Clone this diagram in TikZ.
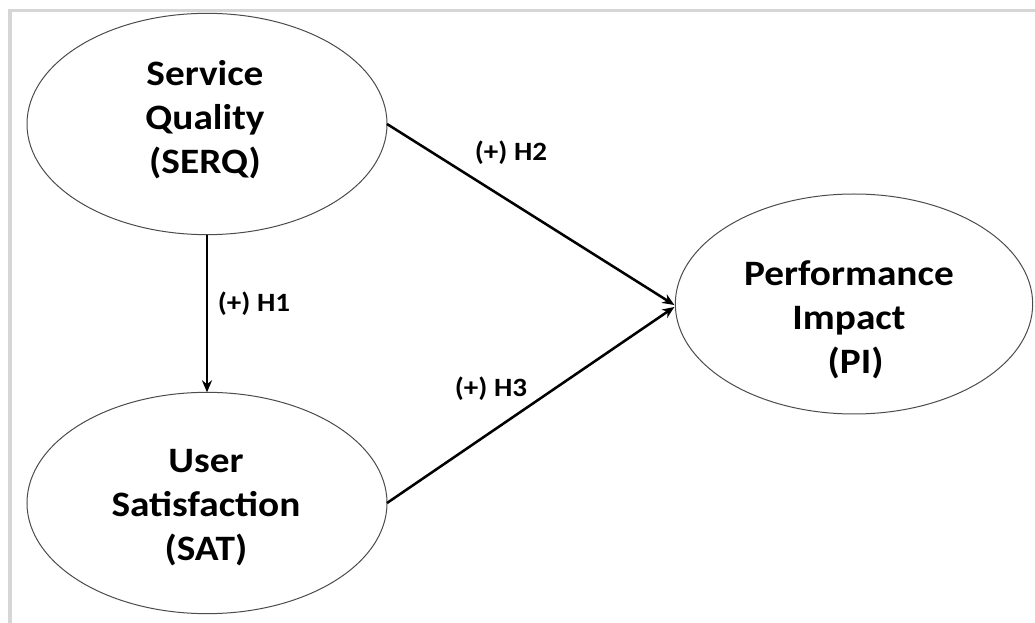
\documentclass[tikz,border=0pt]{standalone}
\usepackage{fontspec}
\setmainfont{Carlito}[FakeStretch=1.1]
\usetikzlibrary{arrows.meta,calc}
\tikzset{
  construct/.style={ellipse, draw=black!70, line width=0.75pt, minimum width=270pt, minimum height=166pt, inner sep=0pt, outer sep=0pt},
  ctext/.style={align=center, font=\bfseries\fontsize{26.8}{33}\selectfont, inner sep=0pt},
  hyp/.style={font=\bfseries\fontsize{19.8}{24}\selectfont, inner sep=0pt},
  path/.style={line width=1.9pt, -{Stealth[length=9pt,width=7.5pt]}},
  frameline/.style={draw=black!16, line width=2.6pt}
}
\usetikzlibrary{shapes.geometric}
\begin{document}
\begin{tikzpicture}[x=0.75pt,y=-0.75pt]
\useasboundingbox (0,0) rectangle (1035,623);
\fill[white] (0,0) rectangle (1035,623);
% partial frame
\coordinate (fTR) at (1035,10.5);
\coordinate (fTL) at (10,10.5);
\coordinate (fBL) at (10,623);
\draw[frameline] (fTR) -- (fTL) -- (fBL);
% constructs
\node[construct] (SERQ) at (207,124) {};
\node[construct] (SAT) at (207,503) {};
\node[construct, minimum width=268pt, minimum height=165pt] (PI) at (854,304) {};
\node[ctext] (SERQt) at (205,120) {Service\\Quality\\(SERQ)};
\node[ctext] (SATt) at (206,508) {User\\Satisfaction\\(SAT)};
\node[ctext] (PIt) at (849,320) {Performance\\Impact\\\hspace*{10pt}(PI)};
% paths
\draw[path] (SERQ.south) -- (SAT.north);
\draw[path] (SERQ.east) -- ($(PI.west)+(-1,1)$);
\draw[path] (SAT.east) -- ($(PI.west)+(-1,3)$);
% labels
\node[hyp] (H1) at (254,304) {(+) H1};
\node[hyp] (H2) at (511,153) {(+) H2};
\node[hyp] (H3) at (491,389) {(+) H3};
\end{tikzpicture}
\end{document}
